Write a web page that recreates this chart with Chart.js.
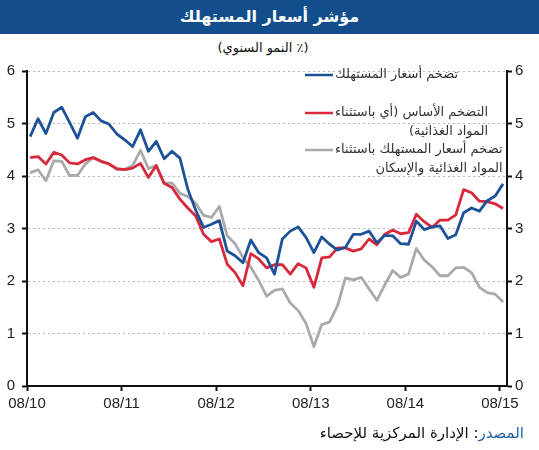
<!DOCTYPE html>
<html>
<head>
<meta charset="utf-8">
<script src="https://cdn.jsdelivr.net/npm/chart.js@4"></script>
<style>
  body { margin: 0; width: 539px; height: 450px; background: #fff; position: relative; overflow: hidden; font-family: "DejaVu Sans", "Liberation Sans", sans-serif; }
  #bar { position: absolute; left: 0; top: 0; width: 539px; height: 34px; background: #124e8c; color: #fff; text-align: center; font-size: 16px; font-weight: bold; line-height: 34px; }
  #sub { position: absolute; left: 0; top: 40px; width: 526px; text-align: center; font-size: 13px; color: #111; }
  #src { position: absolute; right: 15px; top: 424px; font-size: 15px; color: #111; }
  #src span { color: #1f5fa8; }
  #wrap { position: absolute; left: 0; top: 55px; }
</style>
</head>
<body>
<div id="bar" dir="rtl">مؤشر أسعار المستهلك</div>
<div id="sub" dir="rtl">(٪ النمو السنوي)</div>
<div id="wrap"><canvas id="c" width="539" height="370"></canvas></div>
<div id="src" dir="rtl"><span>المصدر</span>: الإدارة المركزية للإحصاء</div>
<script>
// monthly, 08/2010 .. 08/2015
const xLabels = ['08/10', '08/11', '08/12', '08/13', '08/14', '08/15'];
const yTicks = [0, 1, 2, 3, 4, 5, 6];

const cpi = [4.75, 5.09, 4.81, 5.21, 5.31, 5.02, 4.72, 5.13, 5.21, 5.05, 4.99, 4.80,
  4.69, 4.56, 4.88, 4.47, 4.66, 4.33, 4.47, 4.34, 3.75, 3.35, 3.02, 3.08,
  3.15, 2.57, 2.48, 2.35, 2.78, 2.54, 2.44, 2.13, 2.80, 2.95, 3.03, 2.83,
  2.54, 2.84, 2.70, 2.59, 2.64, 2.89, 2.89, 2.95, 2.73, 2.87, 2.86, 2.71,
  2.70, 3.14, 2.98, 3.03, 3.05, 2.81, 2.88, 3.30, 3.39, 3.33, 3.53, 3.62, 3.85];

const core = [4.35, 4.37, 4.23, 4.45, 4.40, 4.25, 4.23, 4.31, 4.35, 4.28, 4.23, 4.14,
  4.12, 4.15, 4.24, 3.97, 4.20, 3.86, 3.78, 3.56, 3.39, 3.24, 2.89, 2.75,
  2.80, 2.32, 2.16, 1.91, 2.52, 2.42, 2.25, 2.31, 2.31, 2.13, 2.33, 2.25,
  1.88, 2.44, 2.46, 2.63, 2.63, 2.57, 2.61, 2.80, 2.69, 2.89, 2.97, 2.90,
  2.92, 3.27, 3.13, 3.02, 3.16, 3.16, 3.26, 3.74, 3.68, 3.52, 3.51, 3.47, 3.38];

const exHousing = [4.06, 4.12, 3.91, 4.29, 4.28, 4.01, 4.01, 4.23, 4.35, 4.28, 4.23, 4.12,
  4.13, 4.20, 4.49, 4.14, 4.20, 3.86, 3.87, 3.67, 3.61, 3.48, 3.25, 3.21,
  3.42, 2.86, 2.71, 2.45, 2.26, 2.01, 1.71, 1.82, 1.85, 1.58, 1.44, 1.19,
  0.75, 1.17, 1.22, 1.53, 2.06, 2.02, 2.07, 1.85, 1.63, 1.93, 2.20, 2.07,
  2.13, 2.62, 2.40, 2.27, 2.10, 2.10, 2.25, 2.26, 2.16, 1.88, 1.78, 1.75, 1.60];

const legendLines = [
  ['تضخم أسعار المستهلك'],
  ['التضخم الأساس (أي باستثناء', 'المواد الغذائية)'],
  ['تضخم أسعار المستهلك باستثناء', 'المواد الغذائية والإسكان']
];
const colors = ['#1d5299', '#d8283c', '#aaaaaa'];

const toPoints = arr => arr.map((v, i) => ({x: i, y: v}));

// legend drawn beside the lines, text block right-aligned
const legendPlugin = {
  id: 'sideLegend',
  afterDraw(chart) {
    const ctx = chart.ctx;
    const left = 305, textLeft = 335;
    const tops = [20, 58, 95];
    ctx.save();
    ctx.font = '13px "DejaVu Sans", sans-serif';
    ctx.direction = 'rtl';
    ctx.textAlign = 'right';
    ctx.textBaseline = 'middle';
    chart.data.datasets.forEach((ds, k) => {
      const lines = legendLines[k];
      const w = Math.max(...lines.map(l => ctx.measureText(l).width));
      const y0 = tops[k];
      ctx.strokeStyle = ds.borderColor;
      ctx.lineWidth = 2.5;
      ctx.beginPath();
      ctx.moveTo(left, y0);
      ctx.lineTo(textLeft - 2, y0);
      ctx.stroke();
      ctx.fillStyle = '#333';
      lines.forEach((l, j) => ctx.fillText(l, textLeft + w, y0 + j * 19));
    });
    ctx.restore();
  }
};

const tickFont = {family: '"Liberation Sans", Arial, sans-serif', size: 15};

new Chart(document.getElementById('c'), {
  type: 'line',
  data: {
    datasets: [
      {label: legendLines[0].join(' '), data: toPoints(cpi), borderColor: colors[0]},
      {label: legendLines[1].join(' '), data: toPoints(core), borderColor: colors[1]},
      {label: legendLines[2].join(' '), data: toPoints(exHousing), borderColor: colors[2]}
    ]
  },
  options: {
    responsive: false,
    animation: false,
    layout: {padding: {top: 14, left: 0, right: 0, bottom: 0}},
    elements: {
      point: {radius: 0},
      line: {borderWidth: 2.8, tension: 0, borderJoinStyle: 'round'}
    },
    plugins: {legend: {display: false}, tooltip: {enabled: false}},
    scales: {
      x: {
        type: 'linear',
        min: -0.4,
        max: 60.5,
        afterBuildTicks: s => { s.ticks = xLabels.map((l, i) => ({value: i * 12 - 0.4})); },
        afterFit: s => { s.height = 39; },
        ticks: {
          callback: (v, i) => xLabels[i],
          color: '#222', font: tickFont, padding: 4, maxRotation: 0, autoSkip: false
        },
        grid: {drawOnChartArea: false, drawTicks: true, tickLength: 5, tickColor: '#111', tickWidth: 2},
        border: {color: '#111', width: 2}
      },
      y: {
        position: 'left',
        min: 0, max: 6,
        afterBuildTicks: s => { s.ticks = yTicks.map(v => ({value: v})); },
        afterFit: s => { s.width = 27; },
        ticks: {color: '#222', font: tickFont, padding: 7},
        grid: {
          color: c => c.tick && c.tick.value === 0 ? 'rgba(0,0,0,0)' : '#b5b5b5',
          lineWidth: 1, tickLength: 5, tickColor: '#111', tickWidth: 2
        },
        border: {color: '#111', width: 2, dash: [2, 3]}
      },
      y2: {
        position: 'right',
        min: 0, max: 6,
        afterBuildTicks: s => { s.ticks = yTicks.map(v => ({value: v})); },
        afterFit: s => { s.width = 32; },
        ticks: {color: '#222', font: tickFont, padding: 3},
        grid: {drawOnChartArea: false, tickLength: 5, tickColor: '#111', tickWidth: 2},
        border: {color: '#111', width: 2}
      }
    }
  },
  plugins: [legendPlugin]
});
</script>
</body>
</html>
